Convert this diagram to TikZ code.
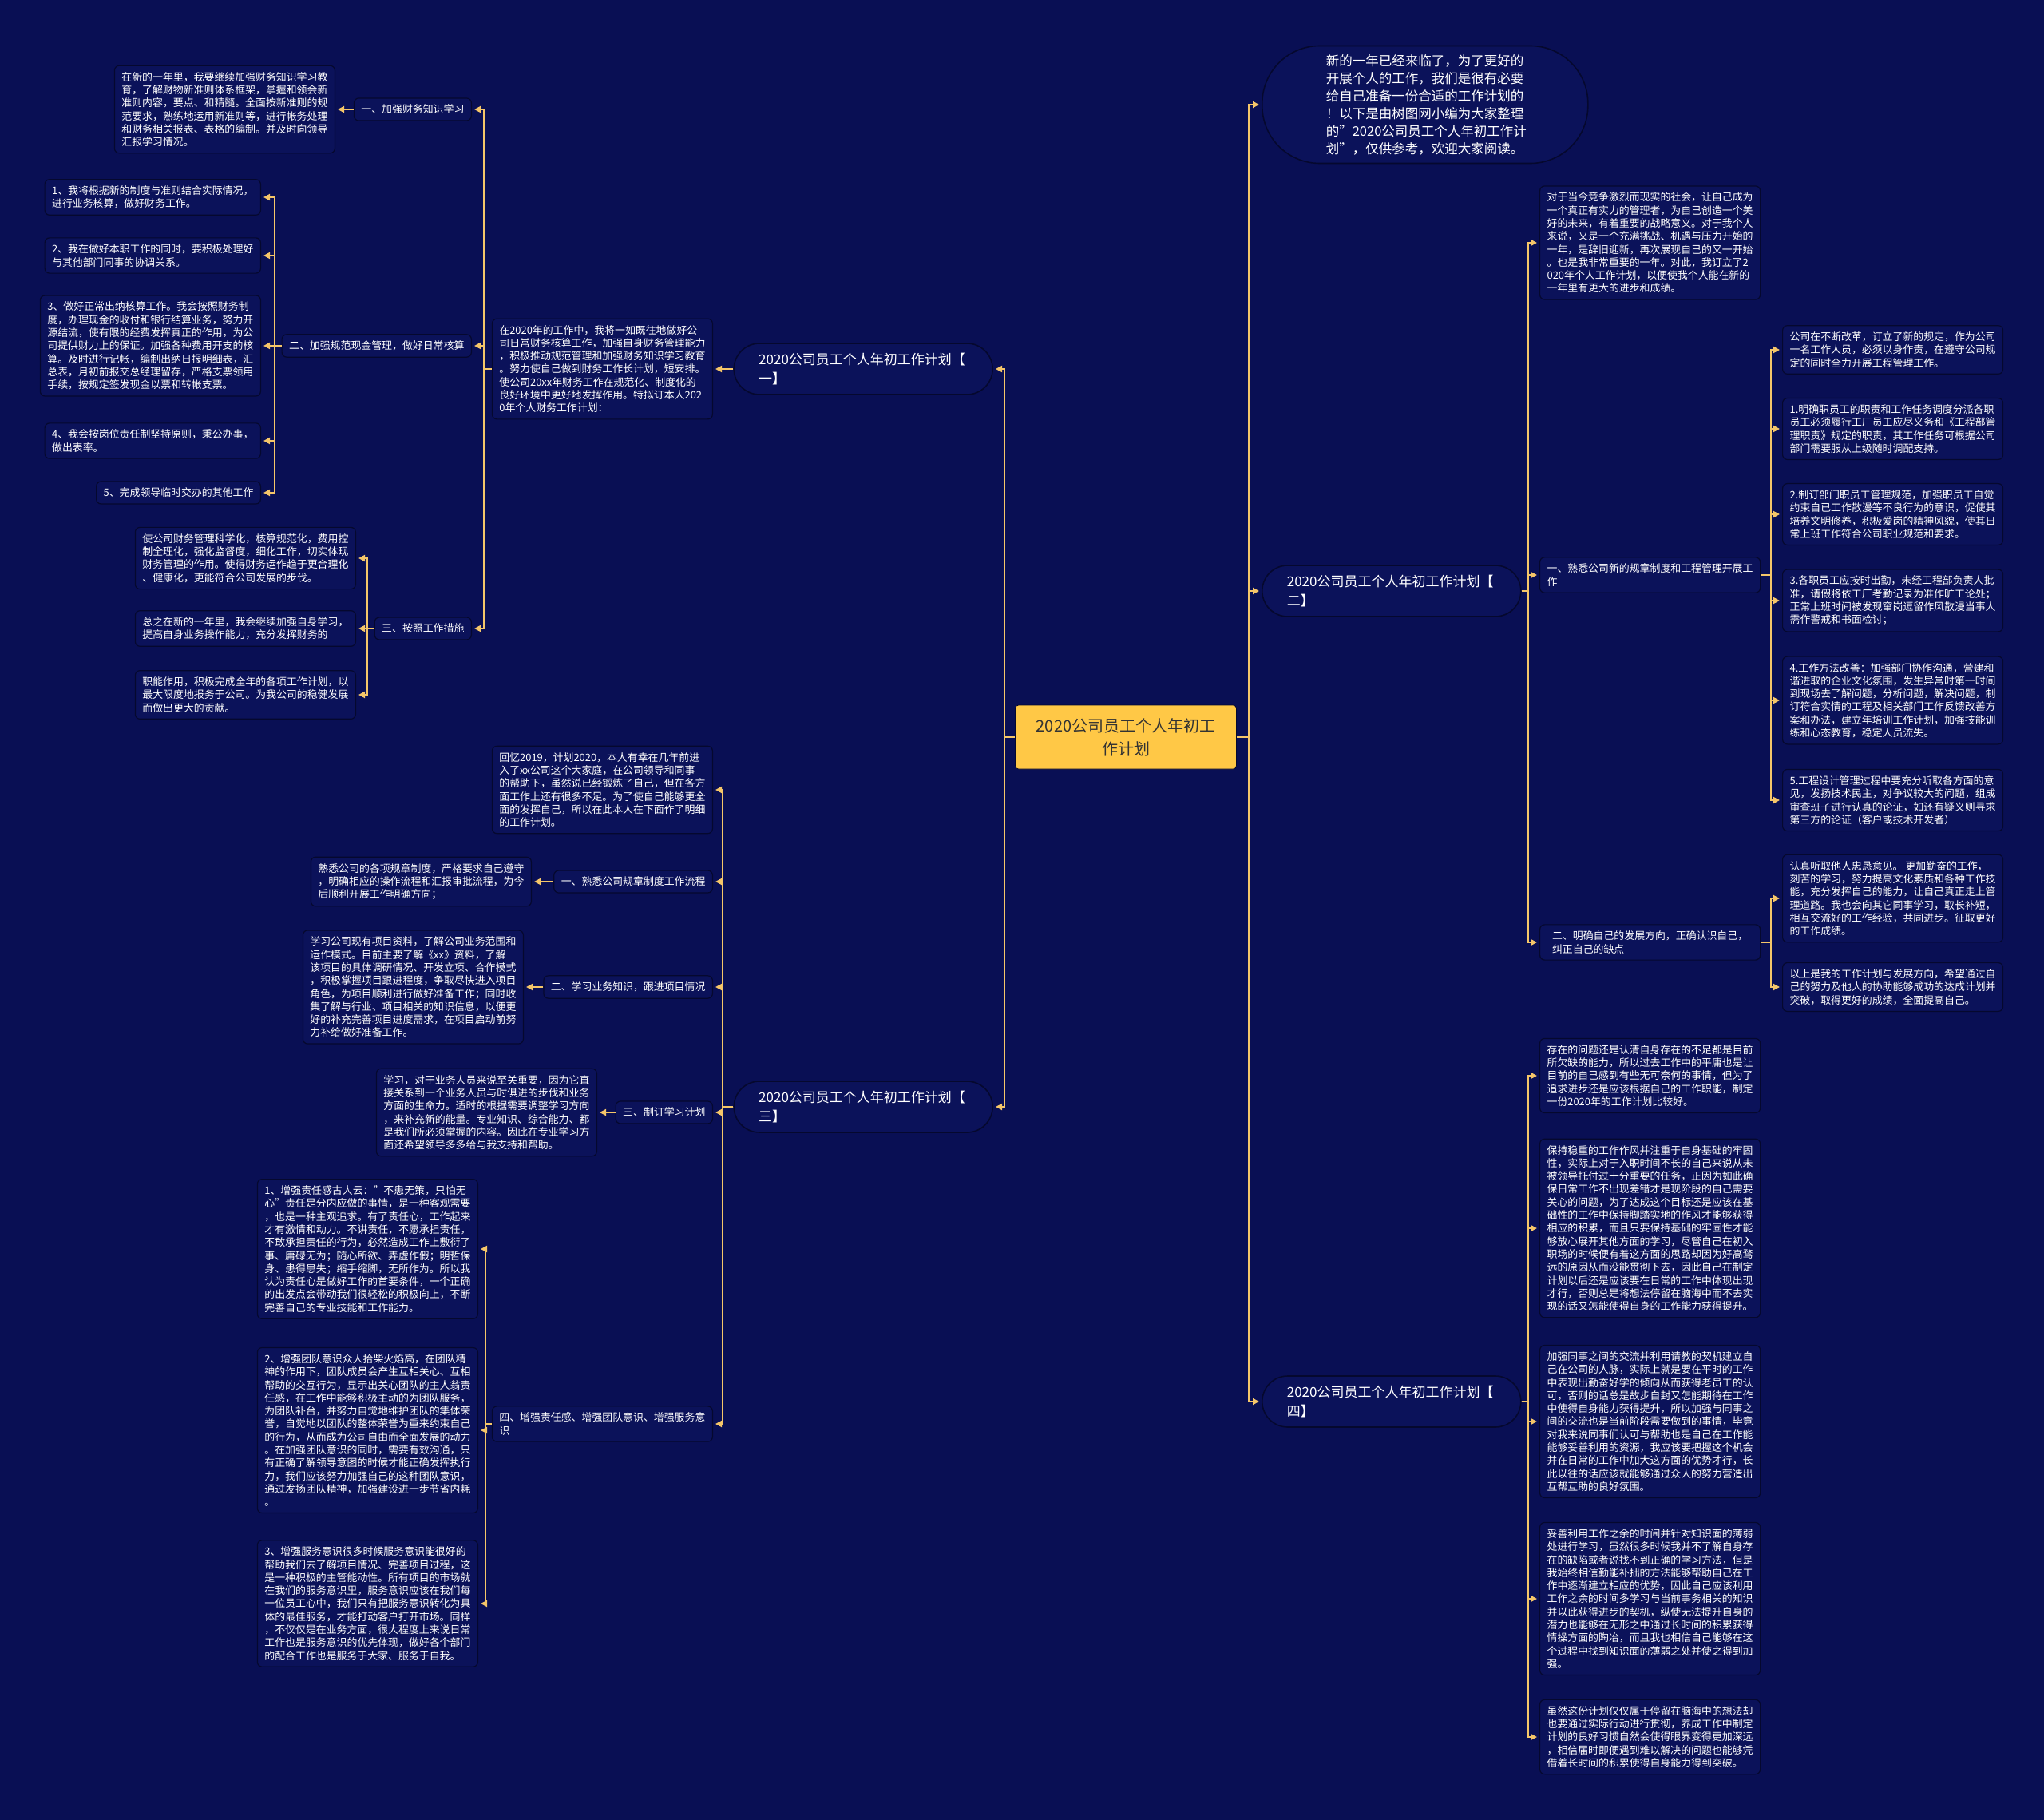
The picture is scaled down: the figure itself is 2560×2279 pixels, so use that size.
\documentclass[tikz,border=0pt]{standalone}
\usepackage{fontspec}
\setmainfont{Noto Sans CJK SC}
\usepackage{xcolor}
\usepackage{tikz}
\usetikzlibrary{arrows.meta,positioning}

\definecolor{navy}{RGB}{9,15,84}
\definecolor{boxfill}{RGB}{11,18,90}
\definecolor{boxline}{RGB}{5,8,46}
\definecolor{gold}{RGB}{245,198,105}
\definecolor{rootfill}{RGB}{255,200,70}

\newcommand\leaffont{\fontsize{6.45pt}{8.15pt}\selectfont}
\newcommand\branchfont{\fontsize{8.5pt}{12pt}\selectfont}
\newcommand\rootfont{\fontsize{10pt}{14.5pt}\selectfont}
\newcommand\introfont{\fontsize{8.25pt}{11pt}\selectfont}

\begin{document}
\begin{tikzpicture}[
  x=0.5pt, y=-0.5pt,
  leaf/.style={draw=boxline, fill=boxfill, line width=0.6pt, rounded corners=3pt,
               align=left, text=white, font=\leaffont, inner xsep=4.5pt, inner ysep=4pt},
  topic/.style={leaf, minimum width=138pt},
  branch/.style={draw=boxline, fill=boxfill, line width=0.8pt, rounded corners=16pt,
                 text=white, font=\branchfont, text width=131pt, align=left,
                 minimum height=32pt, inner xsep=15.5pt, inner ysep=2pt},
  intro/.style={branch, font=\introfont, text width=124pt, inner xsep=40pt,
                minimum height=73.5pt, rounded corners=36pt},
  root/.style={draw=boxline, fill=rootfill, rounded corners=2pt, text=black!80,
               font=\rootfont, align=center, minimum width=138.5pt, minimum height=40pt},
  arr/.style={draw=gold, line width=0.9pt, -{Triangle[length=4pt,width=4pt]}, shorten >=1.5pt}
]
\fill[navy] (0,0) rectangle (2560,2279);
\useasboundingbox (0,0) rectangle (2560,2279);

% root
\node[root] (root) at (1410,923) {2020公司员工个人年初工\\作计划};

% main branches
\node[intro, anchor=west] (intro) at (1580,131) {新的一年已经来临了，为了更好的\\开展个人的工作，我们是很有必要\\给自己准备一份合适的工作计划的\\！以下是由树图网小编为大家整理\\的"2020公司员工个人年初工作计\\划"，仅供参考，欢迎大家阅读。};
\node[branch, anchor=west] (b2) at (1580,740) {2020公司员工个人年初工作计划【\\二】};
\node[branch, anchor=west] (b4) at (1580,1755) {2020公司员工个人年初工作计划【\\四】};
\node[branch, anchor=east] (b1) at (1244,462) {2020公司员工个人年初工作计划【\\一】};
\node[branch, anchor=east] (b3) at (1244,1386) {2020公司员工个人年初工作计划【\\三】};

% branch one
\node[leaf, anchor=east] (p1) at (893,462) {在2020年的工作中，我将一如既往地做好公\\司日常财务核算工作，加强自身财务管理能力\\，积极推动规范管理和加强财务知识学习教育\\。努力使自己做到财务工作长计划，短安排。\\使公司20xx年财务工作在规范化、制度化的\\良好环境中更好地发挥作用。特拟订本人202\\0年个人财务工作计划：};
\node[leaf, anchor=east] (n1a) at (591,137) {一、加强财务知识学习};
\node[leaf, anchor=east] (l1a) at (420,137) {在新的一年里，我要继续加强财务知识学习教\\育，了解财物新准则体系框架，掌握和领会新\\准则内容，要点、和精髓。全面按新准则的规\\范要求，熟练地运用新准则等，进行帐务处理\\和财务相关报表、表格的编制。并及时向领导\\汇报学习情况。};
\node[leaf, anchor=east] (n1b) at (591,433) {二、加强规范现金管理，做好日常核算};
\node[leaf, anchor=east] (i1) at (327,247) {1、我将根据新的制度与准则结合实际情况，\\进行业务核算，做好财务工作。};
\node[leaf, anchor=east] (i2) at (327,320) {2、我在做好本职工作的同时，要积极处理好\\与其他部门同事的协调关系。};
\node[leaf, anchor=east] (i3) at (327,433) {3、做好正常出纳核算工作。我会按照财务制\\度，办理现金的收付和银行结算业务，努力开\\源结流，使有限的经费发挥真正的作用，为公\\司提供财力上的保证。加强各种费用开支的核\\算。及时进行记帐，编制出纳日报明细表，汇\\总表，月初前报交总经理留存，严格支票领用\\手续，按规定签发现金以票和转帐支票。};
\node[leaf, anchor=east] (i4) at (327,552) {4、我会按岗位责任制坚持原则，秉公办事，\\做出表率。};
\node[leaf, anchor=east] (i5) at (327,617) {5、完成领导临时交办的其他工作};
\node[leaf, anchor=east] (n1c) at (591,787) {三、按照工作措施};
\node[leaf, anchor=east] (c1) at (446,699) {使公司财务管理科学化，核算规范化，费用控\\制全理化，强化监督度，细化工作，切实体现\\财务管理的作用。使得财务运作趋于更合理化\\、健康化，更能符合公司发展的步伐。};
\node[leaf, anchor=east] (c2) at (446,787) {总之在新的一年里，我会继续加强自身学习，\\提高自身业务操作能力，充分发挥财务的};
\node[leaf, anchor=east] (c3) at (446,870) {职能作用，积极完成全年的各项工作计划，以\\最大限度地报务于公司。为我公司的稳健发展\\而做出更大的贡献。};

% branch three
\node[leaf, anchor=east] (p3) at (893,989) {回忆2019，计划2020，本人有幸在几年前进\\入了xx公司这个大家庭，在公司领导和同事\\的帮助下，虽然说已经锻炼了自己，但在各方\\面工作上还有很多不足。为了使自己能够更全\\面的发挥自己，所以在此本人在下面作了明细\\的工作计划。};
\node[leaf, anchor=east] (n3a) at (893,1104) {一、熟悉公司规章制度工作流程};
\node[leaf, anchor=east] (l3a) at (666,1104) {熟悉公司的各项规章制度，严格要求自己遵守\\，明确相应的操作流程和汇报审批流程，为今\\后顺利开展工作明确方向；};
\node[leaf, anchor=east] (n3b) at (893,1236) {二、学习业务知识，跟进项目情况};
\node[leaf, anchor=east] (l3b) at (656,1236) {学习公司现有项目资料，了解公司业务范围和\\运作模式。目前主要了解《xx》资料，了解\\该项目的具体调研情况、开发立项、合作模式\\，积极掌握项目跟进程度，争取尽快进入项目\\角色，为项目顺利进行做好准备工作；同时收\\集了解与行业、项目相关的知识信息，以便更\\好的补充完善项目进度需求，在项目启动前努\\力补给做好准备工作。};
\node[leaf, anchor=east] (n3c) at (893,1393) {三、制订学习计划};
\node[leaf, anchor=east] (l3c) at (748,1393) {学习，对于业务人员来说至关重要，因为它直\\接关系到一个业务人员与时俱进的步伐和业务\\方面的生命力。适时的根据需要调整学习方向\\，来补充新的能量。专业知识、综合能力、都\\是我们所必须掌握的内容。因此在专业学习方\\面还希望领导多多给与我支持和帮助。};
\node[leaf, anchor=east] (n3d) at (893,1783) {四、增强责任感、增强团队意识、增强服务意\\识};
\node[leaf, anchor=east] (d1) at (599,1564) {1、增强责任感古人云："不患无策，只怕无\\心"责任是分内应做的事情，是一种客观需要\\，也是一种主观追求。有了责任心，工作起来\\才有激情和动力。不讲责任，不愿承担责任，\\不敢承担责任的行为，必然造成工作上敷衍了\\事、庸碌无为；随心所欲、弄虚作假；明哲保\\身、患得患失；缩手缩脚，无所作为。所以我\\认为责任心是做好工作的首要条件，一个正确\\的出发点会带动我们很轻松的积极向上，不断\\完善自己的专业技能和工作能力。};
\node[leaf, anchor=east] (d2) at (599,1791) {2、增强团队意识众人拾柴火焰高，在团队精\\神的作用下，团队成员会产生互相关心、互相\\帮助的交互行为，显示出关心团队的主人翁责\\任感，在工作中能够积极主动的为团队服务，\\为团队补台，并努力自觉地维护团队的集体荣\\誉，自觉地以团队的整体荣誉为重来约束自己\\的行为，从而成为公司自由而全面发展的动力\\。在加强团队意识的同时，需要有效沟通，只\\有正确了解领导意图的时候才能正确发挥执行\\力，我们应该努力加强自己的这种团队意识，\\通过发扬团队精神，加强建设进一步节省内耗\\。};
\node[leaf, anchor=east] (d3) at (599,2008) {3、增强服务意识很多时候服务意识能很好的\\帮助我们去了解项目情况、完善项目过程，这\\是一种积极的主管能动性。所有项目的市场就\\在我们的服务意识里，服务意识应该在我们每\\一位员工心中，我们只有把服务意识转化为具\\体的最佳服务，才能打动客户打开市场。同样\\，不仅仅是在业务方面，很大程度上来说日常\\工作也是服务意识的优先体现，做好各个部门\\的配合工作也是服务于大家、服务于自我。};

% branch two
\node[leaf, anchor=west] (p2) at (1928,304) {对于当今竞争激烈而现实的社会，让自己成为\\一个真正有实力的管理者，为自己创造一个美\\好的未来，有着重要的战略意义。对于我个人\\来说，又是一个充满挑战、机遇与压力开始的\\一年，是辞旧迎新，再次展现自己的又一开始\\。也是我非常重要的一年。对此，我订立了2\\020年个人工作计划，以便使我个人能在新的\\一年里有更大的进步和成绩。};
\node[topic, anchor=west] (n2a) at (1928,720) {一、熟悉公司新的规章制度和工程管理开展工\\作};
\node[leaf, anchor=west] (e0) at (2232,438) {公司在不断改革，订立了新的规定，作为公司\\一名工作人员，必须以身作责，在遵守公司规\\定的同时全力开展工程管理工作。};
\node[leaf, anchor=west] (e1) at (2232,537) {1.明确职员工的职责和工作任务调度分派各职\\员工必须履行工厂员工应尽义务和《工程部管\\理职责》规定的职责，其工作任务可根据公司\\部门需要服从上级随时调配支持。};
\node[leaf, anchor=west] (e2) at (2232,644) {2.制订部门职员工管理规范，加强职员工自觉\\约束自已工作散漫等不良行为的意识，促使其\\培养文明修养，积极爱岗的精神风貌，使其日\\常上班工作符合公司职业规范和要求。};
\node[leaf, anchor=west] (e3) at (2232,752) {3.各职员工应按时出勤，未经工程部负责人批\\准，请假将依工厂考勤记录为准作旷工论处；\\正常上班时间被发现窜岗逗留作风散漫当事人\\需作警戒和书面检讨；};
\node[leaf, anchor=west] (e4) at (2232,877) {4.工作方法改善：加强部门协作沟通，营建和\\谐进取的企业文化氛围，发生异常时第一时间\\到现场去了解问题，分析问题，解决问题，制\\订符合实情的工程及相关部门工作反馈改善方\\案和办法，建立年培训工作计划，加强技能训\\练和心态教育，稳定人员流失。};
\node[leaf, anchor=west] (e5) at (2232,1002) {5.工程设计管理过程中要充分听取各方面的意\\见，发扬技术民主，对争议较大的问题，组成\\审查班子进行认真的论证，如还有疑义则寻求\\第三方的论证（客户或技术开发者）};
\node[topic, anchor=west] (n2b) at (1928,1180) {二、明确自己的发展方向，正确认识自己，\\纠正自己的缺点};
\node[leaf, anchor=west] (f1) at (2232,1125) {认真听取他人忠恳意见。 更加勤奋的工作，\\刻苦的学习，努力提高文化素质和各种工作技\\能，充分发挥自己的能力，让自己真正走上管\\理道路。我也会向其它同事学习，取长补短，\\相互交流好的工作经验，共同进步。征取更好\\的工作成绩。};
\node[leaf, anchor=west] (f2) at (2232,1236) {以上是我的工作计划与发展方向，希望通过自\\己的努力及他人的协助能够成功的达成计划并\\突破，取得更好的成绩，全面提高自己。};

% branch four
\node[leaf, anchor=west] (g1) at (1928,1347) {存在的问题还是认清自身存在的不足都是目前\\所欠缺的能力，所以过去工作中的平庸也是让\\目前的自己感到有些无可奈何的事情，但为了\\追求进步还是应该根据自己的工作职能，制定\\一份2020年的工作计划比较好。};
\node[leaf, anchor=west] (g2) at (1928,1538) {保持稳重的工作作风并注重于自身基础的牢固\\性，实际上对于入职时间不长的自己来说从未\\被领导托付过十分重要的任务，正因为如此确\\保日常工作不出现差错才是现阶段的自己需要\\关心的问题，为了达成这个目标还是应该在基\\础性的工作中保持脚踏实地的作风才能够获得\\相应的积累，而且只要保持基础的牢固性才能\\够放心展开其他方面的学习，尽管自己在初入\\职场的时候便有着这方面的思路却因为好高骛\\远的原因从而没能贯彻下去，因此自己在制定\\计划以后还是应该要在日常的工作中体现出现\\才行，否则总是将想法停留在脑海中而不去实\\现的话又怎能使得自身的工作能力获得提升。};
\node[leaf, anchor=west] (g3) at (1928,1780) {加强同事之间的交流并利用请教的契机建立自\\己在公司的人脉，实际上就是要在平时的工作\\中表现出勤奋好学的倾向从而获得老员工的认\\可，否则的话总是故步自封又怎能期待在工作\\中使得自身能力获得提升，所以加强与同事之\\间的交流也是当前阶段需要做到的事情，毕竟\\对我来说同事们认可与帮助也是自己在工作能\\能够妥善利用的资源，我应该要把握这个机会\\并在日常的工作中加大这方面的优势才行，长\\此以往的话应该就能够通过众人的努力营造出\\互帮互助的良好氛围。};
\node[leaf, anchor=west] (g4) at (1928,2002) {妥善利用工作之余的时间并针对知识面的薄弱\\处进行学习，虽然很多时候我并不了解自身存\\在的缺陷或者说找不到正确的学习方法，但是\\我始终相信勤能补拙的方法能够帮助自己在工\\作中逐渐建立相应的优势，因此自己应该利用\\工作之余的时间多学习与当前事务相关的知识\\并以此获得进步的契机，纵使无法提升自身的\\潜力也能够在无形之中通过长时间的积累获得\\情操方面的陶冶，而且我也相信自己能够在这\\个过程中找到知识面的薄弱之处并使之得到加\\强。};
\node[leaf, anchor=west] (g5) at (1928,2175) {虽然这份计划仅仅属于停留在脑海中的想法却\\也要通过实际行动进行贯彻，养成工作中制定\\计划的良好习惯自然会使得眼界变得更加深远\\，相信届时即便遇到难以解决的问题也能够凭\\借着长时间的积累使得自身能力得到突破。};

% connectors
\draw[arr] (root.west) -- ++(-13,0) |- (b1.east);
\draw[arr] (root.west) -- ++(-13,0) |- (b3.east);
\draw[arr] (root.east) -- ++(15,0) |- (intro.west);
\draw[arr] (root.east) -- ++(15,0) |- (b2.west);
\draw[arr] (root.east) -- ++(15,0) |- (b4.west);

\draw[arr] (b1.west) -- (p1.east);
\draw[arr] (p1.west) -- ++(-10,0) |- (n1a.east);
\draw[arr] (p1.west) -- ++(-10,0) |- (n1b.east);
\draw[arr] (p1.west) -- ++(-10,0) |- (n1c.east);
\draw[arr] (n1a.west) -- (l1a.east);
\draw[arr] (n1b.west) -- ++(-9,0) |- (i1.east);
\draw[arr] (n1b.west) -- ++(-9,0) |- (i2.east);
\draw[arr] (n1b.west) -- ++(-9,0) |- (i3.east);
\draw[arr] (n1b.west) -- ++(-9,0) |- (i4.east);
\draw[arr] (n1b.west) -- ++(-9,0) |- (i5.east);
\draw[arr] (n1c.west) -- ++(-9,0) |- (c1.east);
\draw[arr] (n1c.west) -- ++(-9,0) |- (c2.east);
\draw[arr] (n1c.west) -- ++(-9,0) |- (c3.east);

\draw[arr] (b3.west) -- ++(-14,0) |- (p3.east);
\draw[arr] (b3.west) -- ++(-14,0) |- (n3a.east);
\draw[arr] (b3.west) -- ++(-14,0) |- (n3b.east);
\draw[arr] (b3.west) -- ++(-14,0) |- (n3c.east);
\draw[arr] (b3.west) -- ++(-14,0) |- (n3d.east);
\draw[arr] (n3a.west) -- (l3a.east);
\draw[arr] (n3b.west) -- (l3b.east);
\draw[arr] (n3c.west) -- (l3c.east);
\draw[arr] (n3d.west) -- ++(-8,0) |- (d1.east);
\draw[arr] (n3d.west) -- ++(-8,0) |- (d2.east);
\draw[arr] (n3d.west) -- ++(-8,0) |- (d3.east);

\draw[arr] (b2.east) -- ++(8,0) |- (p2.west);
\draw[arr] (b2.east) -- ++(8,0) |- (n2a.west);
\draw[arr] (b2.east) -- ++(8,0) |- (n2b.west);
\draw[arr] (n2a.east) -- ++(13,0) |- (e0.west);
\draw[arr] (n2a.east) -- ++(13,0) |- (e1.west);
\draw[arr] (n2a.east) -- ++(13,0) |- (e2.west);
\draw[arr] (n2a.east) -- ++(13,0) |- (e3.west);
\draw[arr] (n2a.east) -- ++(13,0) |- (e4.west);
\draw[arr] (n2a.east) -- ++(13,0) |- (e5.west);
\draw[arr] (n2b.east) -- ++(13,0) |- (f1.west);
\draw[arr] (n2b.east) -- ++(13,0) |- (f2.west);

\draw[arr] (b4.east) -- ++(8,0) |- (g1.west);
\draw[arr] (b4.east) -- ++(8,0) |- (g2.west);
\draw[arr] (b4.east) -- ++(8,0) |- (g3.west);
\draw[arr] (b4.east) -- ++(8,0) |- (g4.west);
\draw[arr] (b4.east) -- ++(8,0) |- (g5.west);
\end{tikzpicture}
\end{document}
